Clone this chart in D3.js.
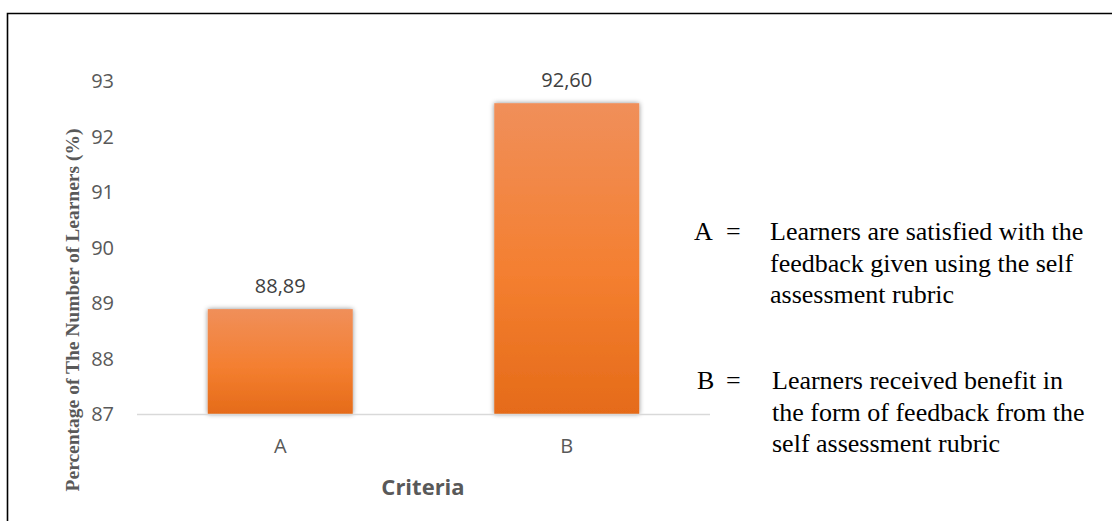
<!DOCTYPE html>
<html><head><meta charset="utf-8">
<script src="https://cdn.jsdelivr.net/npm/d3@7"></script>
<style>body{margin:0;background:#fff}svg{display:block}</style>
</head><body>
<svg id="c" width="1112" height="521"></svg>
<script>
const categories = ["A", "B"];
const values = [88.89, 92.60];
const valueLabels = ["88,89", "92,60"];
const yTicks = [87, 88, 89, 90, 91, 92, 93];
const legendKeys = ["A", "B"];
const legendLines = [
  ["Learners are satisfied with the", "feedback given using the self", "assessment rubric"],
  ["Learners received benefit in", "the form of feedback from the", "self assessment rubric"]
];
const yTitle = "Percentage of The Number of Learners (%)";
const xTitle = "Criteria";

const svg = d3.select("#c");
const defs = svg.append("defs");
const grad = defs.append("linearGradient").attr("id","g").attr("x1",0).attr("y1",0).attr("x2",0).attr("y2",1);
grad.append("stop").attr("offset","0%").attr("stop-color","#F08F5A");
grad.append("stop").attr("offset","55%").attr("stop-color","#F47F30");
grad.append("stop").attr("offset","100%").attr("stop-color","#E56B19");
const f = defs.append("filter").attr("id","sh").attr("x","-20%").attr("y","-20%").attr("width","140%").attr("height","140%");
f.append("feDropShadow").attr("dx",0).attr("dy",0).attr("stdDeviation",2.6).attr("flood-color","#000").attr("flood-opacity",0.45);

// frame
svg.append("path").attr("d","M7.5,521 L7.5,13.5 L1112,13.5").attr("fill","none").attr("stroke","#000").attr("stroke-width",1.6);

const x = d3.scaleBand().domain(categories).range([137, 710]).paddingInner(0.494).paddingOuter(0.247);
const y = d3.scaleLinear().domain([87, 93]).range([414, 81]);

const tickFont = "'Open Sans', 'Noto Sans', sans-serif";
const serif = "'Liberation Serif', 'Times New Roman', serif";

// y tick labels
svg.append("g").selectAll("text").data(yTicks).join("text")
  .attr("x", 114).attr("y", d => y(d)).attr("dy","0.35em")
  .attr("text-anchor","end").attr("font-family", tickFont).attr("font-size",20).attr("fill","#595959")
  .text(d => d);

// bars
svg.append("g").selectAll("rect").data(values).join("rect")
  .attr("x",(d,i)=>x(categories[i])).attr("width",x.bandwidth())
  .attr("y",d=>y(d)).attr("height",d=>y(87)-y(d))
  .attr("fill","url(#g)").attr("filter","url(#sh)");

// axis line
svg.append("line").attr("x1",137).attr("x2",710).attr("y1",414.5).attr("y2",414.5).attr("stroke","#D9D9D9").attr("stroke-width",1.5);

// value labels
svg.append("g").selectAll("text").data(values).join("text")
  .attr("x",(d,i)=>x(categories[i])+x.bandwidth()/2).attr("y",d=>y(d)-16)
  .attr("text-anchor","middle").attr("font-family",tickFont).attr("font-size",20).attr("fill","#404040")
  .text((d,i)=>valueLabels[i]);

// category labels
svg.append("g").selectAll("text").data(categories).join("text")
  .attr("x",d=>x(d)+x.bandwidth()/2).attr("y",453)
  .attr("text-anchor","middle").attr("font-family",tickFont).attr("font-size",20).attr("fill","#595959")
  .text(d=>d);

// x title
svg.append("text").attr("x",423).attr("y",495).attr("text-anchor","middle")
  .attr("font-family",tickFont).attr("font-weight","bold").attr("font-size",22).attr("fill","#595959").text(xTitle);

// y title
svg.append("text").attr("transform","translate(79,310) rotate(-90)").attr("text-anchor","middle")
  .attr("font-family",serif).attr("font-weight","bold").attr("font-size",19.5).attr("fill","#595959").text(yTitle);

// legend
const legBase = [240, 389];
legendKeys.forEach((k,i)=>{
  const g = svg.append("g");
  g.append("text").attr("x",i?697:694).attr("y",legBase[i]).attr("font-family",serif).attr("font-size",26).attr("fill","#000").text(k);
  g.append("text").attr("x",726).attr("y",legBase[i]).attr("font-family",serif).attr("font-size",26).attr("fill","#000").text("=");
  legendLines[i].forEach((t,j)=>{
    g.append("text").attr("x",i?772:770).attr("y",legBase[i]+j*31.5).attr("font-family",serif).attr("font-size",26).attr("fill","#000").text(t);
  });
});
</script>
</body></html>
